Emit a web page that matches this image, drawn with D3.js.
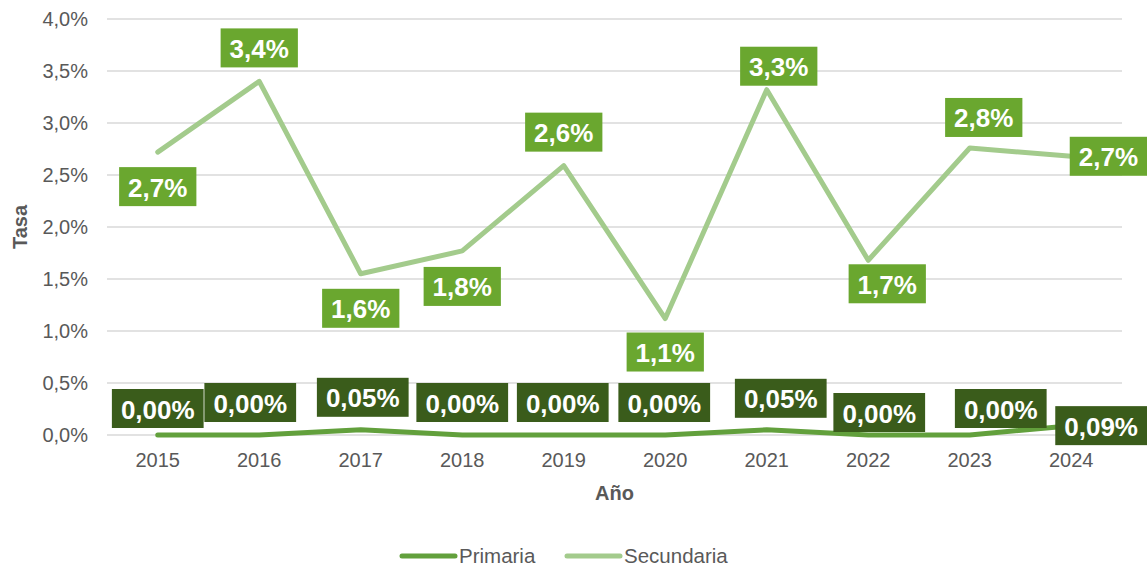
<!DOCTYPE html>
<meta charset="utf-8">
<style>
    body { margin: 0; background: #fff; }
    text { font-family: "Liberation Sans", Arial, sans-serif; }
</style>
<svg width="1147" height="566"></svg>
<script src="https://d3js.org/d3.v7.min.js"></script>
<script>

    // datos
    var years = ["2015", "2016", "2017", "2018", "2019", "2020", "2021", "2022", "2023", "2024"];
    var primaria = [0.0000, 0.0000, 0.0005, 0.0000, 0.0000, 0.0000, 0.0005, 0.0000, 0.0000, 0.0009];
    var secundaria = [0.0272, 0.0340, 0.0155, 0.0177, 0.0259, 0.0112, 0.0332, 0.0168, 0.0276, 0.0268];
    var yTicks = [0, 0.005, 0.01, 0.015, 0.02, 0.025, 0.03, 0.035, 0.04];

    // posicion de las etiquetas (lado, separacion y desplazamiento horizontal)
    var secPos = ["below", "above", "below", "below", "above", "below", "above", "below", "above", "right"];
    var secGap = [15, 14, 15, 16, 14, 14, 4, 4, 11, 0];
    var secDx = [0, 0, 0, 0, 0, 0, 12, 19, 14, 0];
    var primPos = ["above", "above", "above", "above", "above", "above", "above", "above", "above", "right"];
    var primGap = [7, 13, 13, 13, 13, 13, 12, 3, 7, 0];
    var primDx = [0, -9, 2, 0, -1, -1, 14, 11, 31, 0];

    var svg = d3.select("svg"),
        margin = { top: 19, right: 25, bottom: 131, left: 107 },
        width = 1147 - margin.left - margin.right,
        height = 566 - margin.top - margin.bottom;

    var locale = d3.formatLocale({ decimal: ",", thousands: ".", grouping: [3], currency: ["", "€"] });
    var fmt1 = locale.format(".1%"),
        fmt2 = locale.format(".2%");

    var g = svg.append("g").attr("transform", "translate(" + margin.left + "," + margin.top + ")");

    var x = d3.scaleBand().domain(years).range([0, width]);
    var y = d3.scaleLinear().domain([0, 0.04]).range([height, 0]);

    // lineas de cuadricula
    g.selectAll(".grid")
        .data(yTicks)
        .enter().append("line")
        .attr("x1", 0).attr("x2", width)
        .attr("y1", function (d) { return y(d); })
        .attr("y2", function (d) { return y(d); })
        .attr("stroke", "#d9d9d9")
        .attr("stroke-width", 1.3);

    // eje y
    var yAxis = g.append("g")
        .call(d3.axisLeft(y).tickValues(yTicks).tickFormat(fmt1).tickSize(0).tickPadding(19));
    yAxis.select(".domain").remove();
    yAxis.selectAll("text").attr("font-size", 20).attr("fill", "#595959")
        .style("font-family", "'Liberation Sans', Arial, sans-serif");

    // eje x
    var xAxis = g.append("g")
        .attr("transform", "translate(0," + height + ")")
        .call(d3.axisBottom(x).tickSize(0).tickPadding(18));
    xAxis.select(".domain").remove();
    xAxis.selectAll("text").attr("font-size", 20).attr("fill", "#595959")
        .style("font-family", "'Liberation Sans', Arial, sans-serif");

    // titulos de ejes
    svg.append("text")
        .attr("x", margin.left + width / 2)
        .attr("y", 500)
        .attr("text-anchor", "middle")
        .attr("font-size", 20)
        .attr("font-weight", "bold")
        .attr("fill", "#595959")
        .text("Año");

    svg.append("text")
        .attr("transform", "translate(27," + (margin.top + height / 2) + ") rotate(-90)")
        .attr("text-anchor", "middle")
        .attr("font-size", 20)
        .attr("font-weight", "bold")
        .attr("fill", "#595959")
        .text("Tasa");

    var line = d3.line()
        .x(function (d, i) { return x(years[i]) + x.bandwidth() / 2; })
        .y(function (d) { return y(d); });

    g.append("path")
        .datum(secundaria)
        .attr("d", line)
        .attr("fill", "none")
        .attr("stroke", "#a3cb8c")
        .attr("stroke-width", 5)
        .attr("stroke-linecap", "round")
        .attr("stroke-linejoin", "round");

    g.append("path")
        .datum(primaria)
        .attr("d", line)
        .attr("fill", "none")
        .attr("stroke", "#62a03c")
        .attr("stroke-width", 5)
        .attr("stroke-linecap", "round")
        .attr("stroke-linejoin", "round");

    // etiquetas de datos
    function addLabel(cx, cy, txt, fill, pos, gap, dx) {
        var lg = g.append("g");
        var t = lg.append("text")
            .attr("font-size", 26)
            .attr("font-weight", "bold")
            .attr("fill", "#fff")
            .attr("text-anchor", "middle")
            .attr("dominant-baseline", "central")
            .text(txt);
        var w = t.node().getComputedTextLength() + 18,
            h = 39,
            bx, by;
        if (pos === "above") { bx = cx - w / 2 + dx; by = cy - gap - h; }
        else if (pos === "below") { bx = cx - w / 2 + dx; by = cy + gap; }
        else { bx = cx + dx; by = cy - h / 2; }
        // mantener dentro del svg
        if (bx + w > 1147 - margin.left) bx = 1147 - margin.left - w;
        lg.insert("rect", "text")
            .attr("x", bx).attr("y", by)
            .attr("width", w).attr("height", h)
            .attr("fill", fill);
        t.attr("x", bx + w / 2).attr("y", by + h / 2 + 1);
    }

    secundaria.forEach(function (d, i) {
        addLabel(x(years[i]) + x.bandwidth() / 2, y(d), fmt1(d), "#6aa72f", secPos[i], secGap[i], secDx[i]);
    });

    primaria.forEach(function (d, i) {
        addLabel(x(years[i]) + x.bandwidth() / 2, y(d), fmt2(d), "#3a5c1b", primPos[i], primGap[i], primDx[i]);
    });

    // leyenda
    var legend = svg.append("g").attr("transform", "translate(0,556)");
    var items = [{ name: "Primaria", color: "#62a03c", x: 400 }, { name: "Secundaria", color: "#a3cb8c", x: 565 }];
    items.forEach(function (it) {
        legend.append("line")
            .attr("x1", it.x + 2).attr("x2", it.x + 55)
            .attr("y1", 0).attr("y2", 0)
            .attr("stroke", it.color)
            .attr("stroke-width", 5)
            .attr("stroke-linecap", "round");
        legend.append("text")
            .attr("x", it.x + 59)
            .attr("y", 7)
            .attr("font-size", 20.5)
            .attr("fill", "#595959")
            .text(it.name);
    });

</script>
